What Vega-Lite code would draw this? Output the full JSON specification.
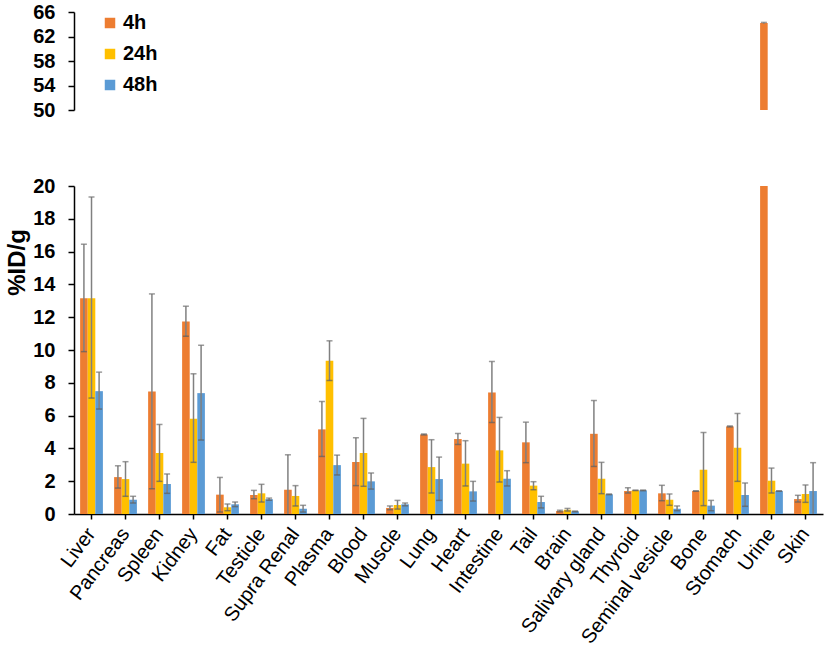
{
  "$schema": "https://vega.github.io/schema/vega-lite/v6.json",
  "description": "Biodistribution (%ID/g) by organ at 4h, 24h and 48h, with a broken y axis.",
  "padding": {"left": 5, "top": 2, "right": 5, "bottom": 2},
  "config": {
    "font": "Liberation Sans",
    "view": {"stroke": null},
    "axis": {
      "domainColor": "black",
      "domainWidth": 1.5,
      "tickColor": "black",
      "tickWidth": 1.5,
      "tickSize": 6,
      "grid": false,
      "labelColor": "black",
      "titleColor": "black",
      "labelOverlap": false
    }
  },
  "datasets": {
    "organs": [
      {"organ": "Liver", "time": "4h", "value": 13.16, "lo": 9.9, "hi": 16.45},
      {"organ": "Liver", "time": "24h", "value": 13.16, "lo": 7.07, "hi": 19.33},
      {"organ": "Liver", "time": "48h", "value": 7.49, "lo": 6.4, "hi": 8.65},
      {"organ": "Pancreas", "time": "4h", "value": 2.25, "lo": 1.58, "hi": 2.94},
      {"organ": "Pancreas", "time": "24h", "value": 2.13, "lo": 1.08, "hi": 3.19},
      {"organ": "Pancreas", "time": "48h", "value": 0.87, "lo": 0.67, "hi": 1.08},
      {"organ": "Spleen", "time": "4h", "value": 7.47, "lo": 1.54, "hi": 13.42},
      {"organ": "Spleen", "time": "24h", "value": 3.72, "lo": 1.99, "hi": 5.46},
      {"organ": "Spleen", "time": "48h", "value": 1.83, "lo": 1.26, "hi": 2.44},
      {"organ": "Kidney", "time": "4h", "value": 11.74, "lo": 10.84, "hi": 12.67},
      {"organ": "Kidney", "time": "24h", "value": 5.81, "lo": 3.15, "hi": 8.55},
      {"organ": "Kidney", "time": "48h", "value": 7.37, "lo": 4.51, "hi": 10.29},
      {"organ": "Fat", "time": "4h", "value": 1.18, "lo": 0.12, "hi": 2.23},
      {"organ": "Fat", "time": "24h", "value": 0.41, "lo": 0.2, "hi": 0.61},
      {"organ": "Fat", "time": "48h", "value": 0.59, "lo": 0.45, "hi": 0.73},
      {"organ": "Testicle", "time": "4h", "value": 1.16, "lo": 0.93, "hi": 1.44},
      {"organ": "Testicle", "time": "24h", "value": 1.26, "lo": 0.73, "hi": 1.81},
      {"organ": "Testicle", "time": "48h", "value": 0.9, "lo": 0.84, "hi": 0.97},
      {"organ": "Supra Renal", "time": "4h", "value": 1.48, "lo": -0.65, "hi": 3.61},
      {"organ": "Supra Renal", "time": "24h", "value": 1.1, "lo": 0.49, "hi": 1.73},
      {"organ": "Supra Renal", "time": "48h", "value": 0.32, "lo": 0.12, "hi": 0.53},
      {"organ": "Plasma", "time": "4h", "value": 5.16, "lo": 3.51, "hi": 6.86},
      {"organ": "Plasma", "time": "24h", "value": 9.34, "lo": 8.14, "hi": 10.56},
      {"organ": "Plasma", "time": "48h", "value": 2.98, "lo": 2.38, "hi": 3.59},
      {"organ": "Blood", "time": "4h", "value": 3.17, "lo": 1.73, "hi": 4.65},
      {"organ": "Blood", "time": "24h", "value": 3.72, "lo": 1.69, "hi": 5.83},
      {"organ": "Blood", "time": "48h", "value": 1.99, "lo": 1.52, "hi": 2.5},
      {"organ": "Muscle", "time": "4h", "value": 0.37, "lo": 0.26, "hi": 0.49},
      {"organ": "Muscle", "time": "24h", "value": 0.55, "lo": 0.3, "hi": 0.83},
      {"organ": "Muscle", "time": "48h", "value": 0.59, "lo": 0.5, "hi": 0.67},
      {"organ": "Lung", "time": "4h", "value": 4.85, "lo": 4.82, "hi": 4.88},
      {"organ": "Lung", "time": "24h", "value": 2.86, "lo": 1.28, "hi": 4.53},
      {"organ": "Lung", "time": "48h", "value": 2.13, "lo": 0.83, "hi": 3.47},
      {"organ": "Heart", "time": "4h", "value": 4.57, "lo": 4.24, "hi": 4.91},
      {"organ": "Heart", "time": "24h", "value": 3.07, "lo": 1.71, "hi": 4.47},
      {"organ": "Heart", "time": "48h", "value": 1.38, "lo": 0.79, "hi": 1.99},
      {"organ": "Intestine", "time": "4h", "value": 7.41, "lo": 5.58, "hi": 9.3},
      {"organ": "Intestine", "time": "24h", "value": 3.88, "lo": 1.95, "hi": 5.89},
      {"organ": "Intestine", "time": "48h", "value": 2.15, "lo": 1.71, "hi": 2.64},
      {"organ": "Tail", "time": "4h", "value": 4.37, "lo": 3.13, "hi": 5.6},
      {"organ": "Tail", "time": "24h", "value": 1.73, "lo": 1.48, "hi": 1.97},
      {"organ": "Tail", "time": "48h", "value": 0.73, "lo": 0.37, "hi": 1.08},
      {"organ": "Brain", "time": "4h", "value": 0.18, "lo": 0.13, "hi": 0.23},
      {"organ": "Brain", "time": "24h", "value": 0.26, "lo": 0.18, "hi": 0.34},
      {"organ": "Brain", "time": "48h", "value": 0.16, "lo": 0.14, "hi": 0.18},
      {"organ": "Salivary gland", "time": "4h", "value": 4.89, "lo": 2.9, "hi": 6.92},
      {"organ": "Salivary gland", "time": "24h", "value": 2.15, "lo": 1.24, "hi": 3.15},
      {"organ": "Salivary gland", "time": "48h", "value": 1.2, "lo": 1.18, "hi": 1.22},
      {"organ": "Thyroid", "time": "4h", "value": 1.4, "lo": 1.28, "hi": 1.6},
      {"organ": "Thyroid", "time": "24h", "value": 1.44, "lo": 1.43, "hi": 1.45},
      {"organ": "Thyroid", "time": "48h", "value": 1.44, "lo": 1.42, "hi": 1.46},
      {"organ": "Seminal vesicle", "time": "4h", "value": 1.26, "lo": 0.81, "hi": 1.75},
      {"organ": "Seminal vesicle", "time": "24h", "value": 0.87, "lo": 0.53, "hi": 1.22},
      {"organ": "Seminal vesicle", "time": "48h", "value": 0.32, "lo": 0.2, "hi": 0.49},
      {"organ": "Bone", "time": "4h", "value": 1.4, "lo": 1.39, "hi": 1.41},
      {"organ": "Bone", "time": "24h", "value": 2.7, "lo": 0.51, "hi": 4.97},
      {"organ": "Bone", "time": "48h", "value": 0.51, "lo": 0.2, "hi": 0.83},
      {"organ": "Stomach", "time": "4h", "value": 5.34, "lo": 5.31, "hi": 5.37},
      {"organ": "Stomach", "time": "24h", "value": 4.04, "lo": 1.99, "hi": 6.13},
      {"organ": "Stomach", "time": "48h", "value": 1.16, "lo": 0.47, "hi": 1.89},
      {"organ": "Urine", "time": "4h", "value": 64.2, "lo": 64.1, "hi": 64.3},
      {"organ": "Urine", "time": "24h", "value": 2.03, "lo": 1.28, "hi": 2.8},
      {"organ": "Urine", "time": "48h", "value": 1.4, "lo": 1.39, "hi": 1.41},
      {"organ": "Skin", "time": "4h", "value": 0.91, "lo": 0.73, "hi": 1.14},
      {"organ": "Skin", "time": "24h", "value": 1.22, "lo": 0.71, "hi": 1.77},
      {"organ": "Skin", "time": "48h", "value": 1.4, "lo": -0.33, "hi": 3.13}
    ]
  },
  "data": {"name": "organs"},
  "spacing": 56,
  "resolve": {"scale": {"y": "independent", "color": "independent"}},
  "vconcat": [
    {
      "width": 749,
      "height": 98,
      "encoding": {
        "x": {
          "field": "organ",
          "type": "nominal",
          "sort": null,
          "scale": {"paddingInner": 0.33, "paddingOuter": 0.18},
          "axis": null
        },
        "xOffset": {"field": "time", "sort": ["4h", "24h", "48h"]}
      },
      "layer": [
        {
          "mark": {"type": "bar", "clip": true},
          "encoding": {
            "y": {
              "field": "value",
              "type": "quantitative",
              "scale": {"domain": [50, 66], "zero": false, "nice": false},
              "axis": {
                "title": null,
                "values": [50, 54, 58, 62, 66],
                "labelOverlap": false,
                "labelFontSize": 20,
                "labelFontWeight": "bold",
                "labelPadding": 13
              }
            },
            "color": {
              "field": "time",
              "type": "nominal",
              "scale": {"domain": ["4h", "24h", "48h"], "range": ["#ED7D31", "#FFC000", "#5B9BD5"]},
              "legend": {
                "title": null,
                "orient": "none",
                "legendX": 26,
                "legendY": 1,
                "symbolType": "square",
                "symbolSize": 110,
                "symbolStrokeWidth": 0,
                "labelFontSize": 20,
                "labelFontWeight": "bold",
                "labelColor": "black",
                "rowPadding": 11,
                "labelOffset": 3
              }
            }
          }
        },
        {
          "mark": {"type": "rule", "clip": true, "color": "#808080", "strokeWidth": 1.5},
          "encoding": {
            "y": {
              "field": "lo",
              "type": "quantitative",
              "axis": {
                "title": null,
                "values": [50, 54, 58, 62, 66],
                "labelOverlap": false,
                "labelFontSize": 20,
                "labelFontWeight": "bold",
                "labelPadding": 13
              }
            },
            "y2": {"field": "hi"}
          }
        },
        {
          "mark": {"type": "tick", "clip": true, "color": "#707070", "size": 6, "thickness": 1.5},
          "encoding": {
            "y": {
              "field": "hi",
              "type": "quantitative",
              "axis": {
                "title": null,
                "values": [50, 54, 58, 62, 66],
                "labelOverlap": false,
                "labelFontSize": 20,
                "labelFontWeight": "bold",
                "labelPadding": 13
              }
            }
          }
        }
      ]
    },
    {
      "width": 749,
      "height": 328,
      "encoding": {
        "x": {
          "field": "organ",
          "type": "nominal",
          "sort": null,
          "scale": {"paddingInner": 0.33, "paddingOuter": 0.18},
          "axis": {
            "title": null,
            "labelAngle": -53,
            "labelFontSize": 20,
            "labelPadding": 11,
            "tickSize": 5
          }
        },
        "xOffset": {"field": "time", "sort": ["4h", "24h", "48h"]}
      },
      "layer": [
        {
          "mark": {"type": "bar", "clip": true},
          "encoding": {
            "y": {
              "field": "value",
              "type": "quantitative",
              "scale": {"domain": [0, 20], "nice": false},
              "axis": {
                "title": "%ID/g",
                "titleFontSize": 24,
                "titleFontWeight": "bold",
                "titleX": -57,
                "titleY": 76,
                "titleBaseline": "middle",
                "values": [0, 2, 4, 6, 8, 10, 12, 14, 16, 18, 20],
                "labelOverlap": false,
                "labelFontSize": 20,
                "labelFontWeight": "bold",
                "labelPadding": 13
              }
            },
            "color": {
              "field": "time",
              "type": "nominal",
              "scale": {"domain": ["4h", "24h", "48h"], "range": ["#ED7D31", "#FFC000", "#5B9BD5"]},
              "legend": null
            }
          }
        },
        {
          "mark": {"type": "rule", "clip": true, "color": "#808080", "strokeWidth": 1.5},
          "encoding": {
            "y": {
              "field": "lo",
              "type": "quantitative",
              "axis": {
                "title": "%ID/g",
                "titleFontSize": 24,
                "titleFontWeight": "bold",
                "titleX": -57,
                "titleY": 76,
                "titleBaseline": "middle",
                "values": [0, 2, 4, 6, 8, 10, 12, 14, 16, 18, 20],
                "labelOverlap": false,
                "labelFontSize": 20,
                "labelFontWeight": "bold",
                "labelPadding": 13
              }
            },
            "y2": {"field": "hi"}
          }
        },
        {
          "mark": {"type": "tick", "clip": true, "color": "#707070", "size": 6, "thickness": 1.5},
          "encoding": {
            "y": {
              "field": "hi",
              "type": "quantitative",
              "axis": {
                "title": "%ID/g",
                "titleFontSize": 24,
                "titleFontWeight": "bold",
                "titleX": -57,
                "titleY": 76,
                "titleBaseline": "middle",
                "values": [0, 2, 4, 6, 8, 10, 12, 14, 16, 18, 20],
                "labelOverlap": false,
                "labelFontSize": 20,
                "labelFontWeight": "bold",
                "labelPadding": 13
              }
            }
          }
        },
        {
          "mark": {"type": "tick", "clip": true, "color": "#606060", "size": 6, "thickness": 1.5},
          "encoding": {
            "y": {
              "field": "lo",
              "type": "quantitative",
              "axis": {
                "title": "%ID/g",
                "titleFontSize": 24,
                "titleFontWeight": "bold",
                "titleX": -57,
                "titleY": 76,
                "titleBaseline": "middle",
                "values": [0, 2, 4, 6, 8, 10, 12, 14, 16, 18, 20],
                "labelOverlap": false,
                "labelFontSize": 20,
                "labelFontWeight": "bold",
                "labelPadding": 13
              }
            }
          }
        }
      ]
    }
  ]
}
